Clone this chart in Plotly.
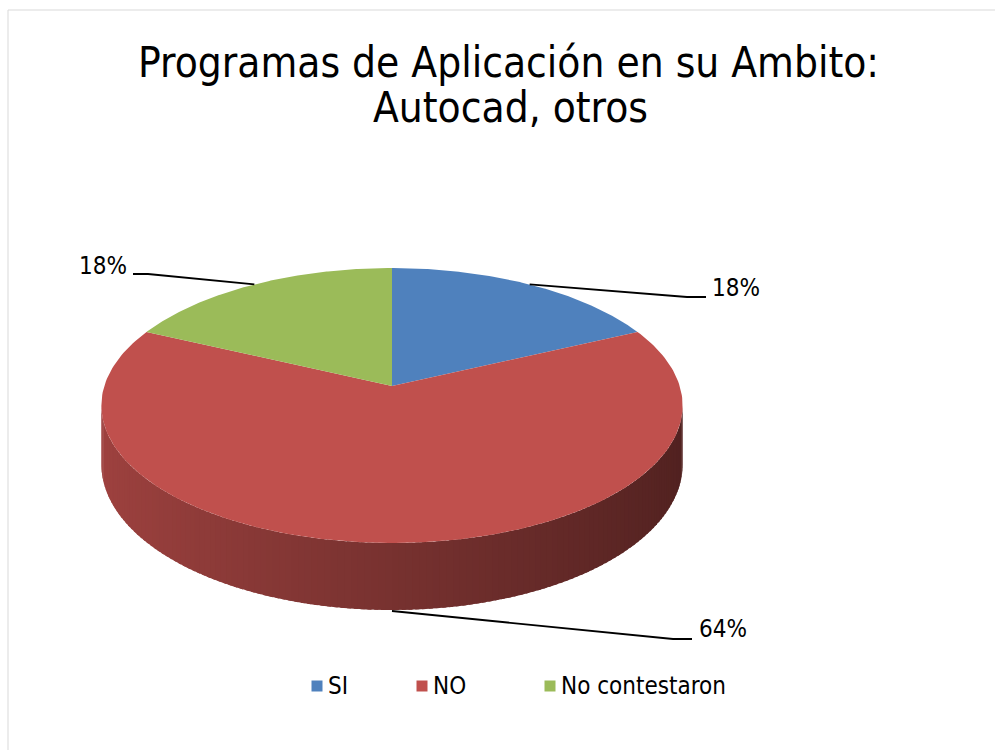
import numpy as np
import plotly.graph_objects as go

# ---------------- data ----------------
categories = ["SI", "NO", "No contestaron"]
values = [18, 64, 18]
colors = ["#4F81BD", "#C0504D", "#9BBB59"]
title_lines = ["Programas de Aplicación en su Ambito:", "Autocad, otros"]

# ---------------- geometry / style ----------------
W, H = 995, 750
CX, CY = 392.0, 386.0      # apex of the pie (pixel space)
RX, K = 287.7, 134.7       # horizontal / vertical radii
P = 0.142                  # perspective factor
D = 57.5                   # depth of the pie
FONT = "DejaVu Sans Condensed, DejaVu Sans, sans-serif"

# label placement (text anchor, elbow of leader)
label_pos = [
    dict(tx=710, ty=288, xa="left", ex=687, ey=297, hx=706),
    dict(tx=697, ty=629, xa="left", ex=673, ey=639, hx=692),
    dict(tx=129, ty=266, xa="right", ex=148, ey=274, hx=133),
]
# manual legend placement (square centre x, text start x, y)
legend_sq_x = [317, 422, 550]
legend_tx_x = [326, 431, 559]
legend_y = 686


def proj(theta_deg, depth=0.0):
    t = np.radians(theta_deg)
    w = 1 + P * np.cos(t)
    x = CX + RX * np.sin(t) / w
    y = CY - K * np.cos(t) / w + depth * D / w
    return x, y


def hex_to_rgb(h):
    h = h.lstrip("#")
    return tuple(int(h[i:i + 2], 16) for i in (0, 2, 4))


total = float(sum(values))
angles = np.concatenate([[0.0], np.cumsum(values) / total * 360.0])

fig = go.Figure()

# ---------- side wall (visible front part) with horizontal gradient ----------
th_lo = np.degrees(np.arccos(-P))
th_hi = 360.0 - th_lo
n_strips = 140
edges = np.linspace(th_lo, th_hi, n_strips + 1)
step = edges[1] - edges[0]
for j in range(n_strips):
    t0 = edges[j]
    t1 = min(edges[j + 1] + step * 0.6, th_hi)
    mid = 0.5 * (edges[j] + edges[j + 1])
    idx = int(np.searchsorted(angles, mid, side="right") - 1)
    idx = min(max(idx, 0), len(values) - 1)
    r, g, b = hex_to_rgb(colors[idx])
    f = 0.625 - 0.205 * np.sin(np.radians(mid))
    col = f"rgb({int(r * f)},{int(g * f)},{int(b * f)})"
    th = np.linspace(t0, t1, 4)
    xt, yt = proj(th, 0)
    xb, yb = proj(th[::-1], 1)
    fig.add_trace(go.Scatter(
        x=np.concatenate([xt, xb]), y=np.concatenate([yt, yb]),
        mode="lines", fill="toself", fillcolor=col,
        line=dict(width=0, color=col), hoverinfo="skip", showlegend=False))

# ---------- top faces ----------
for i, cat in enumerate(categories):
    th = np.linspace(angles[i], angles[i + 1], 200)
    xs, ys = proj(th, 0)
    fig.add_trace(go.Scatter(
        x=np.concatenate([[CX], xs, [CX]]), y=np.concatenate([[CY], ys, [CY]]),
        mode="lines", fill="toself", fillcolor=colors[i],
        line=dict(width=0, color=colors[i]),
        name=cat, hoverinfo="text",
        text=f"{cat}: {values[i] / total * 100:.0f}%", showlegend=False))

# ---------- leader lines + labels ----------
for i, cat in enumerate(categories):
    mid = 0.5 * (angles[i] + angles[i + 1])
    depth = 1.0 if th_lo <= mid <= th_hi else 0.0
    ax_, ay_ = proj(mid, depth)
    lp = label_pos[i]
    fig.add_trace(go.Scatter(
        x=[ax_, lp["ex"], lp["hx"]], y=[ay_ + (1 if depth else 0), lp["ey"], lp["ey"]],
        mode="lines", line=dict(color="black", width=1.8),
        hoverinfo="skip", showlegend=False))
    fig.add_annotation(
        x=lp["tx"], y=lp["ty"], xref="x", yref="y",
        text=f"{values[i] / total * 100:.0f}%", showarrow=False,
        xanchor=lp["xa"], yanchor="middle",
        font=dict(family=FONT, size=24, color="black"))

# ---------- legend (drawn manually to match spacing) ----------
fig.add_trace(go.Scatter(
    x=legend_sq_x, y=[legend_y] * len(categories), mode="markers",
    marker=dict(symbol="square", size=11, color=colors, line=dict(width=0)),
    hoverinfo="text", text=categories, showlegend=False))
for i, cat in enumerate(categories):
    fig.add_annotation(
        x=legend_tx_x[i], y=legend_y, xref="x", yref="y", text=cat,
        showarrow=False, xanchor="left", yanchor="middle",
        font=dict(family=FONT, size=24, color="black"))

# ---------- title ----------
fig.add_annotation(
    x=508, y=62, xref="x", yref="y", text=title_lines[0], showarrow=False,
    xanchor="center", yanchor="middle",
    font=dict(family=FONT, size=42, color="black"))
fig.add_annotation(
    x=510, y=107, xref="x", yref="y", text=title_lines[1], showarrow=False,
    xanchor="center", yanchor="middle",
    font=dict(family=FONT, size=42, color="black"))

fig.update_layout(
    width=W, height=H, autosize=False,
    margin=dict(l=0, r=0, t=0, b=0),
    paper_bgcolor="white", plot_bgcolor="white",
    xaxis=dict(range=[0, W], visible=False, fixedrange=True),
    yaxis=dict(range=[H, 0], visible=False, fixedrange=True),
    shapes=[dict(type="rect", xref="x", yref="y", x0=8, y0=10, x1=1010, y1=770,
                 line=dict(color="#D9D9D9", width=1), layer="below")],
    showlegend=False,
)

fig.write_html("out.html",
               config={"displayModeBar": False},
               post_script="document.body.style.margin='0';document.body.style.overflow='hidden';")
